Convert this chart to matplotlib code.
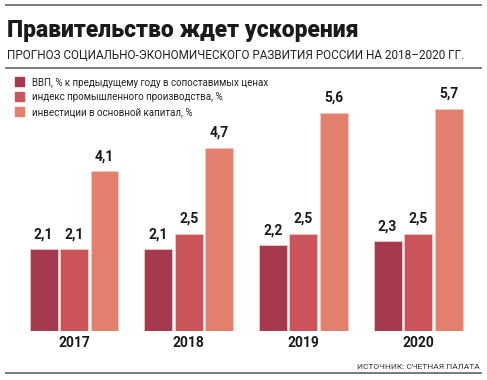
import matplotlib.pyplot as plt
import numpy as np

years = ["2017", "2018", "2019", "2020"]
vvp = [2.1, 2.1, 2.2, 2.3]
prom = [2.1, 2.5, 2.5, 2.5]
invest = [4.1, 4.7, 5.6, 5.7]
labels = ["ВВП, % к предыдущему году в сопоставимых ценах",
          "индекс промышленного производства, %",
          "инвестиции в основной капитал, %"]
colors = ["#A5394E", "#CB545A", "#E2806D"]

W, H = 487, 380
fig = plt.figure(figsize=(W / 100, H / 100), dpi=100)

def px(x, y):
    return x / W, 1 - y / H

# линии сверху и снизу
for yy in (5, 68, 373):
    fig.add_artist(plt.Line2D([6 / W, 481 / W], [1 - yy / H] * 2, color="#6e6e6e", lw=1.3))

fig.text(*px(7, 37), "Правительство ждет ускорения", fontsize=16.5, fontweight=900,
         family="Roboto", color="#1a1a1a", va="baseline")
fig.text(*px(7, 59), "ПРОГНОЗ СОЦИАЛЬНО-ЭКОНОМИЧЕСКОГО РАЗВИТИЯ РОССИИ НА 2018–2020 ГГ.",
         fontsize=8.5, family="Roboto", color="#222222", va="baseline")

# оси
top = 70
ax = fig.add_axes([0, 1 - 331 / H, 1, (331 - top) / H])
ax.set_ylim(0, (331 - top) / 39.0)
ax.set_xlim(-74 / 114.7, (W - 74) / 114.7)
ax.axis("off")

x = np.arange(len(years))
bw = 28 / 114.7
off = 30.5 / 114.7
for i, (vals, c) in enumerate(zip([vvp, prom, invest], colors)):
    xs = x + (i - 1) * off
    ax.bar(xs, vals, width=bw, color=c, edgecolor="#f3c9c0", linewidth=0.6)
    for xx, v in zip(xs, vals):
        ax.text(xx, v + 0.2, f"{v:.1f}".replace(".", ","), ha="center", va="bottom",
                fontsize=10, fontweight="bold", family="Roboto", color="#1a1a1a")

for xx, yr in zip(x, years):
    ax.text(xx, -0.13, yr, ha="center", va="top", fontsize=10, fontweight="bold",
            family="Roboto", color="#1a1a1a", clip_on=False)

# легенда
for i, (lab, c) in enumerate(zip(labels, colors)):
    yy = 77 + i * 15
    fig.add_artist(plt.Rectangle(px(15, yy + 9), 9 / W, 9 / H, color=c))
    fig.text(*px(32, yy + 8.5), lab, fontsize=7, family="Roboto", color="#222222", va="baseline")

fig.text(*px(480, 369), "ИСТОЧНИК: СЧЕТНАЯ ПАЛАТА", fontsize=6, family="Roboto",
         color="#333333", ha="right", va="baseline")

fig.savefig("out.png", dpi=100)
